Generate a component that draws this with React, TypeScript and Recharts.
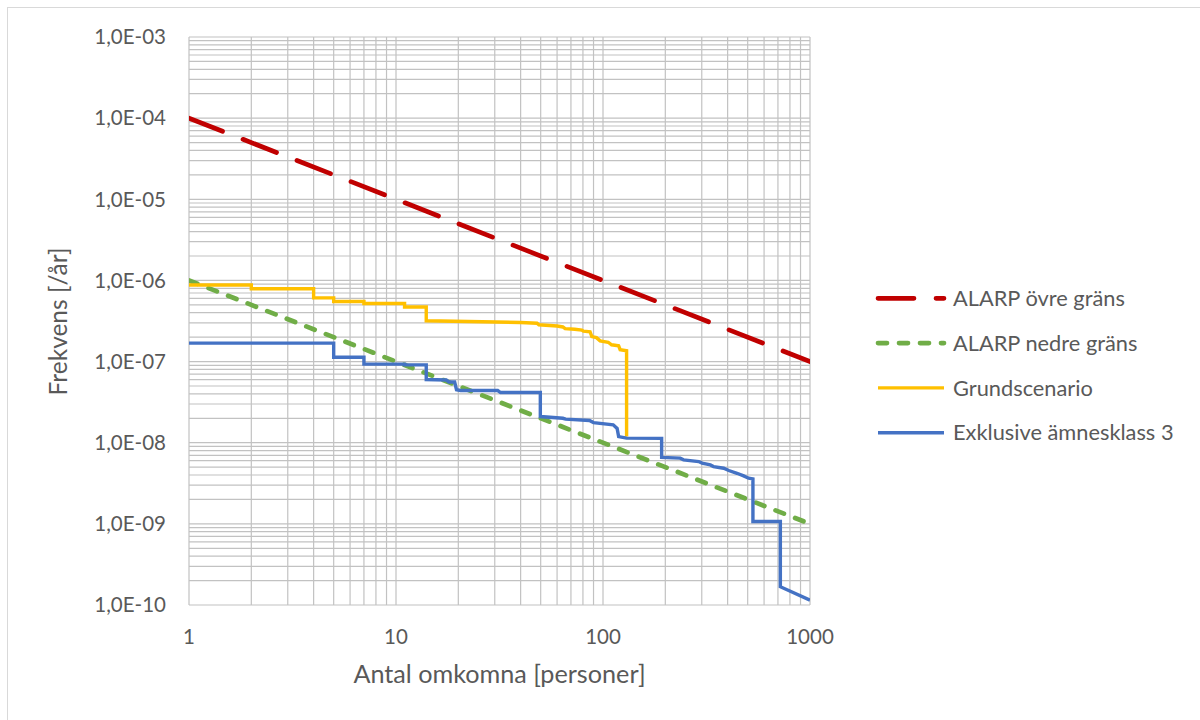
import React from "react";
import { LineChart, Line, XAxis, YAxis, CartesianGrid, Legend } from "recharts";

// ALARP limits (straight lines in log-log)
const ovreGrans: [number, number][] = [
  [1, 1e-4],
  [1000, 1e-7],
];

const nedreGrans: [number, number][] = [
  [1, 1e-6],
  [1000, 1e-9],
];

// F/N curve, base scenario (corner points)
const grundscenario: [number, number][] = [
  [1, 8.8e-7], [2, 8.8e-7], [2, 7.9e-7], [4, 7.9e-7], [4, 6.1e-7],
  [5, 6.1e-7], [5, 5.5e-7], [7, 5.5e-7], [7, 5.2e-7], [11, 5.2e-7],
  [11, 4.7e-7], [14, 4.7e-7], [14, 3.18e-7], [40, 3.03e-7], [48, 2.97e-7],
  [49, 2.84e-7], [60, 2.74e-7], [64, 2.67e-7], [65.6, 2.55e-7], [73, 2.5e-7],
  [79, 2.44e-7], [80.4, 2.37e-7], [86.6, 2.33e-7], [88.3, 2.03e-7], [93, 1.97e-7],
  [96.8, 1.8e-7], [106, 1.73e-7], [110, 1.61e-7], [119, 1.56e-7], [121, 1.4e-7],
  [130, 1.36e-7], [130, 1.19e-8],
];

// F/N curve without substance class 3
const exklusive: [number, number][] = [
  [1, 1.69e-7], [5, 1.69e-7], [5, 1.13e-7], [7, 1.13e-7], [7, 9.3e-8],
  [11, 9.3e-8], [11, 9.1e-8], [14, 9.1e-8], [14, 6.0e-8], [17.5, 5.94e-8],
  [18, 5.6e-8], [19.2, 5.6e-8], [19.6, 4.5e-8], [20.5, 4.4e-8], [31, 4.4e-8],
  [32, 4.15e-8], [49.8, 4.15e-8], [49.8, 2.1e-8], [64, 2.0e-8], [66, 1.95e-8],
  [86, 1.88e-8], [90, 1.77e-8], [112, 1.66e-8], [117, 1.5e-8], [119, 1.19e-8],
  [130, 1.14e-8], [192, 1.13e-8], [192, 6.6e-9], [236, 6.45e-9], [245, 6.15e-9],
  [290, 5.86e-9], [301, 5.6e-9], [330, 5.33e-9], [342, 5.08e-9], [383, 4.85e-9],
  [405, 4.54e-9], [444, 4.2e-9], [478, 3.9e-9], [505, 3.65e-9], [530, 3.58e-9],
  [530, 1.07e-9], [719, 1.07e-9], [719, 1.68e-10], [1000, 1.15e-10],
];

const xTicks = [1, 2, 3, 4, 5, 6, 7, 8, 9, 10, 20, 30, 40, 50, 60, 70, 80, 90, 100,
  200, 300, 400, 500, 600, 700, 800, 900, 1000];

const yExponents = [-10, -9, -8, -7, -6, -5, -4];
const yTicks = [...yExponents.flatMap((e) => [1, 2, 3, 4, 5, 6, 7, 8, 9].map((m) => m * 10 ** e)), 1e-3];

const FONT = "Lato, 'Open Sans', sans-serif";
const TEXT = "#595959";

const SERIES = [
  { name: "ALARP övre gräns", data: ovreGrans, color: "#C00000", width: 4.7, dash: "36 22" },
  { name: "ALARP nedre gräns", data: nedreGrans, color: "#70AD47", width: 4.7, dash: "9 12" },
  { name: "Grundscenario", data: grundscenario, color: "#FFC000", width: 3.4, dash: undefined },
  { name: "Exklusive ämnesklass 3", data: exklusive, color: "#4472C4", width: 3.4, dash: undefined },
];

const isDecade = (v: number) => Math.abs(Math.log10(v) - Math.round(Math.log10(v))) < 1e-9;

const formatY = (v: number) => {
  if (!isDecade(v)) return "";
  const e = Math.round(Math.log10(v));
  const abs = String(Math.abs(e)).padStart(2, "0");
  return `1,0E${e < 0 ? "-" : "+"}${abs}`;
};

const formatX = (v: number) => (isDecade(v) ? String(Math.round(v)) : "");

function LegendBox() {
  return (
    <svg width={330} height={190}>
      {SERIES.map((s, i) => {
        const y = 28.3 + i * 44.8;
        return (
          <g key={s.name}>
            <line
              x1={8}
              x2={74}
              y1={y}
              y2={y}
              stroke={s.color}
              strokeWidth={s.width}
              strokeDasharray={s.dash}
              strokeLinecap={s.dash ? "round" : "butt"}
            />
            <text x={83} y={y + 7.6} fill={TEXT} fontSize={21.8} fontFamily={FONT}>
              {s.name}
            </text>
          </g>
        );
      })}
    </svg>
  );
}

export default function App() {
  return (
    <div
      style={{
        position: "absolute",
        left: 0,
        top: 0,
        width: 1200,
        height: 720,
        background: "#fff",
        overflow: "hidden",
      }}
    >
      <div
        style={{
          position: "absolute",
          left: 7,
          top: 7,
          width: 1220,
          height: 740,
          border: "1px solid #D9D9D9",
        }}
      />
      <LineChart
        width={1200}
        height={720}
        margin={{ top: 37, right: 390, bottom: 75, left: 89 }}
        style={{ position: "absolute", left: 0, top: 0 }}
      >
        <CartesianGrid stroke="#C2C2C2" strokeWidth={1.2} />
        <XAxis
          dataKey="x"
          type="number"
          scale="log"
          domain={[1, 1000]}
          allowDataOverflow
          ticks={xTicks}
          interval={0}
          tickFormatter={formatX}
          axisLine={false}
          tickLine={false}
          tickSize={0}
          tickMargin={24}
          height={40}
          tick={{ fill: TEXT, fontSize: 20.5, fontFamily: FONT }}
        />
        <YAxis
          type="number"
          scale="log"
          domain={[1e-10, 1e-3]}
          allowDataOverflow
          ticks={yTicks}
          interval={0}
          tickFormatter={formatY}
          axisLine={false}
          tickLine={false}
          tickSize={0}
          tickMargin={23}
          width={100}
          tick={{ fill: TEXT, fontSize: 20.5, fontFamily: FONT }}
        />
        <Legend
          layout="vertical"
          align="center"
          verticalAlign="middle"
          wrapperStyle={{ left: 870, top: 270, width: 330 }}
          content={() => <LegendBox />}
        />
        {SERIES.map((s) => (
          <Line
            key={s.name}
            name={s.name}
            data={s.data.map(([x, y]) => ({ x, y }))}
            dataKey="y"
            type="linear"
            stroke={s.color}
            strokeWidth={s.width}
            strokeDasharray={s.dash}
            strokeLinecap={s.dash ? "round" : "butt"}
            dot={false}
            activeDot={false}
            isAnimationActive={false}
          />
        ))}
      </LineChart>
      <svg
        width={1200}
        height={720}
        style={{ position: "absolute", left: 0, top: 0, pointerEvents: "none" }}
      >
        <text x={499.5} y={683} textAnchor="middle" fill={TEXT} fontSize={25.2} fontFamily={FONT}>
          Antal omkomna [personer]
        </text>
        <text
          x={66.5}
          y={321.5}
          textAnchor="middle"
          fill={TEXT}
          fontSize={24.5}
          fontFamily={FONT}
          transform="rotate(-90 66.5 321.5)"
        >
          Frekvens [/år]
        </text>
      </svg>
    </div>
  );
}
